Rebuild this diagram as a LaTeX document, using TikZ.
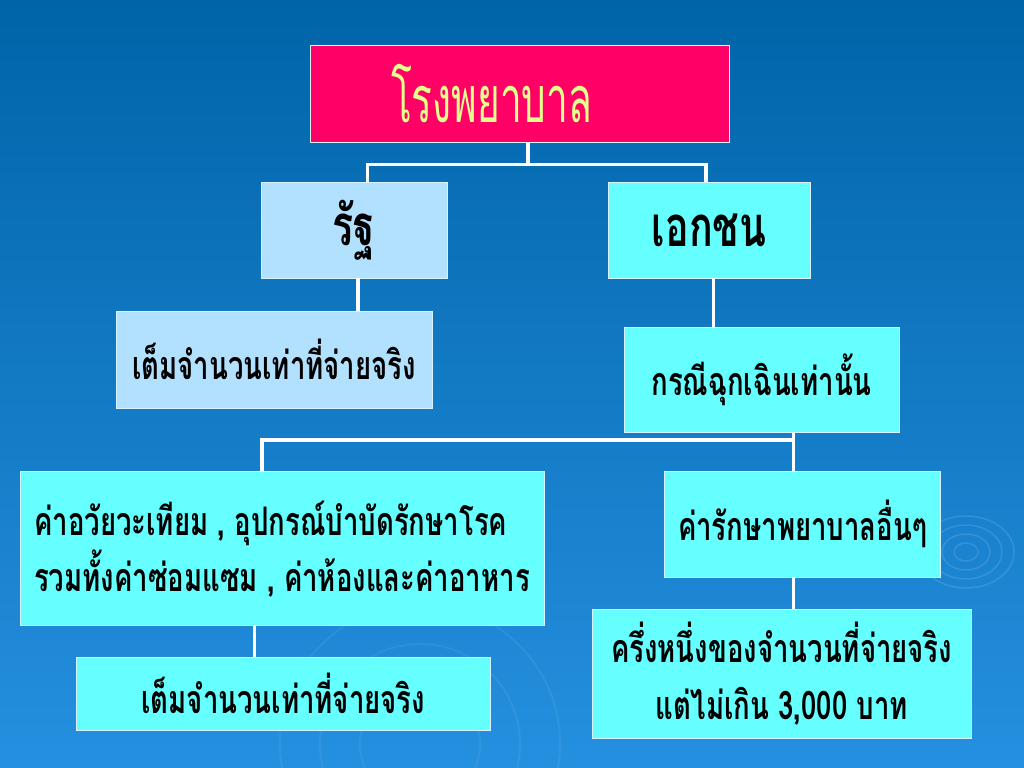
\documentclass[tikz,border=0pt]{standalone}
\usepackage{fontspec}
\usepackage{tikz}
\newfontfamily\thaifont[Script=Thai,FakeStretch=0.7]{Loma}
\newfontfamily\thaititle[Script=Thai,FakeStretch=0.6]{Loma}
\definecolor{bgtop}{HTML}{0064A8}
\definecolor{bgbot}{HTML}{2590E0}
\definecolor{hospred}{HTML}{FF0066}
\definecolor{titlegreen}{HTML}{E4FF8A}
\definecolor{statefill}{HTML}{B2E0FF}
\definecolor{privfill}{HTML}{66FFFF}
\tikzset{
  box/.style={draw=white!85!cyan,line width=0.6pt,align=center,inner sep=0pt,
    font=\thaifont\bfseries\fontsize{28}{40}\selectfont},
  statebox/.style={box,fill=statefill},
  privbox/.style={box,fill=privfill},
  headfont/.style={font=\thaifont\bfseries\fontsize{40}{44}\selectfont},
  link/.style={white,line width=2.2pt}
}
\begin{document}
\begin{tikzpicture}
  % background
  \shade[top color=bgtop,bottom color=bgbot] (0,0) rectangle (25.6,19.2);
  \useasboundingbox (0,0) rectangle (25.6,19.2);
  \foreach \r in {0.3,0.6,0.9,1.2}
    \draw[white,opacity=0.12,line width=1pt] (24.15,5.4) ellipse ({\r} and {0.75*\r});
  \foreach \r in {1.5,2.5,3.5}
    \draw[white,opacity=0.06,line width=1.5pt] (10.5,0.6) circle (\r);

  \node[box,fill=hospred,text=titlegreen,minimum width=10.48cm,minimum height=2.43cm,
    font=\thaititle\fontsize{46}{50}\selectfont] (top) at (12.99,16.86) {\hspace*{-1.4cm}โรงพยาบาล};
  \node[statebox,headfont,minimum width=4.65cm,minimum height=2.4cm] (state) at (8.85,13.45) {รัฐ};
  \node[privbox,headfont,minimum width=5.05cm,minimum height=2.4cm] (priv) at (17.73,13.45) {เอกชน};
  \node[statebox,minimum width=7.9cm,minimum height=2.43cm] (statepay) at (6.85,10.21) {เต็มจำนวนเท่าที่จ่ายจริง};
  \node[privbox,minimum width=6.88cm,minimum height=2.63cm] (emerg) at (19.04,9.71) {กรณีฉุกเฉินเท่านั้น};
  \node[privbox,align=left,minimum width=13.1cm,minimum height=3.85cm] (devices) at (7.05,5.48)
    {ค่าอวัยวะเทียม , อุปกรณ์บำบัดรักษาโรค\\รวมทั้งค่าซ่อมแซม , ค่าห้องและค่าอาหาร};
  \node[privbox,minimum width=6.88cm,minimum height=2.63cm] (other) at (20.06,6.09) {ค่ารักษาพยาบาลอื่นๆ};
  \node[privbox,minimum width=10.35cm,minimum height=1.83cm] (devpay) at (7.08,1.86) {เต็มจำนวนเท่าที่จ่ายจริง};
  \node[privbox,minimum width=9.48cm,minimum height=3.23cm] (half) at (19.54,2.36)
    {ครึ่งหนึ่งของจำนวนที่จ่ายจริง\\แต่ไม่เกิน 3,000 บาท};

  % connectors
  \coordinate (fork) at (13.2,15.08);
  \coordinate (split) at (19.83,8.2);
  \draw[link] (fork |- top.south) -- (fork) -| ([xshift=0.33cm]state.north);
  \draw[link] (fork) -| ([xshift=-0.08cm]priv.north);
  \draw[link] ([xshift=0.1cm]state.south) -- ([xshift=0.1cm]state.south |- statepay.north);
  \draw[link] ([xshift=0.1cm]priv.south) -- ([xshift=0.1cm]priv.south |- emerg.north);
  \draw[link] (split |- emerg.south) -- (split) -| ([xshift=-0.5cm]devices.north);
  \draw[link] (split) -- (split |- other.north);
  \draw[link] (split |- other.south) -- (split |- half.north);
  \draw[link] ([xshift=-0.68cm]devices.south) -- ([xshift=-0.68cm]devices.south |- devpay.north);
\end{tikzpicture}
\end{document}
